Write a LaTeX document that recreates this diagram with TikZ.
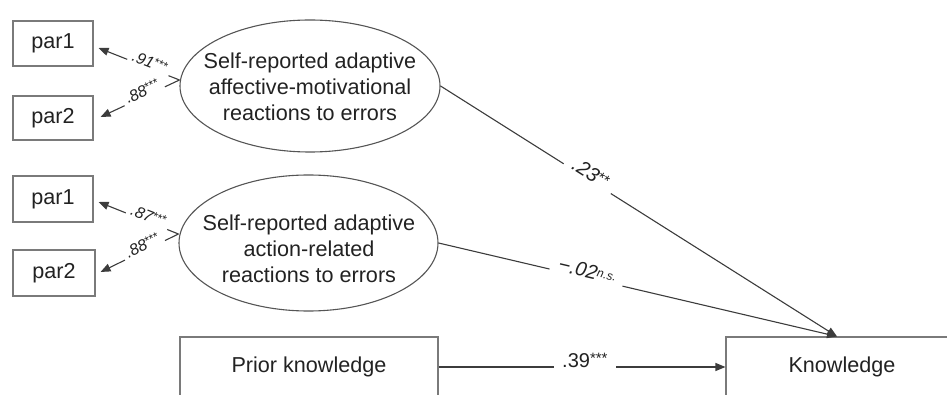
\documentclass[tikz,border=0pt]{standalone}
\usepackage{fontspec}
\setmainfont{Liberation Sans}
\usetikzlibrary{arrows.meta,shapes.geometric,calc}
\definecolor{txt}{HTML}{222222}
\definecolor{linegray}{HTML}{3C3C3C}
\definecolor{ellgray}{HTML}{555555}
\definecolor{boxgray}{HTML}{7A7A7A}
\newcommand{\lstars}[1]{\raisebox{3.5pt}{\fontsize{12}{12}\selectfont\upshape #1}}
\newcommand{\pstars}[1]{\raisebox{3.5pt}{\fontsize{15}{15}\selectfont\upshape #1}}
\begin{document}
\begin{tikzpicture}[x=1pt,y=-1pt,
  box/.style={draw=boxgray,line width=1.1pt,inner sep=0pt,text=txt,font=\fontsize{21.6}{26}\selectfont},
  latent/.style={draw=ellgray,line width=1.1pt,ellipse,inner sep=0pt},
  lattext/.style={align=center,text=txt,inner sep=0pt,font=\fontsize{21.6}{26}\selectfont},
  arr/.style={draw=linegray,line width=1.1pt,-{Triangle[length=10pt,width=8pt]}},
  lbl/.style={fill=white,sloped,anchor=base,inner xsep=4pt,inner ysep=3pt,text=txt,font=\fontsize{16}{16}\selectfont},
  plbl/.style={fill=white,sloped,anchor=base,inner xsep=8pt,inner ysep=3pt,text=txt,font=\fontsize{20}{20}\selectfont},
]
\useasboundingbox (0,0) rectangle (947,395);
\clip (0,0) rectangle (947,395);

% indicator boxes
\node[box,minimum width=80pt,minimum height=45pt] (p11) at (53,43.5) {par1};
\node[box,minimum width=80pt,minimum height=44pt] (p12) at (53,118) {par2};
\node[box,minimum width=80pt,minimum height=46pt] (p21) at (53,199) {par1};
\node[box,minimum width=82pt,minimum height=46pt] (p22) at (54,273) {par2};

% latent variables
\node[latent,minimum width=260pt,minimum height=132pt] (L1) at (310,86) {};
\node[lattext] (L1t) at (310,87) {Self-reported adaptive\\affective-motivational\\reactions to errors};
\node[latent,minimum width=259pt,minimum height=136pt] (L2) at (308.5,243) {};
\node[lattext] (L2t) at (309,249) {Self-reported adaptive\\action-related\\reactions to errors};

% observed predictor / outcome (cut off at picture border)
\node[box,minimum width=258pt,minimum height=60pt] (prior) at (309,367) {Prior knowledge};
\node[box,minimum width=232pt,minimum height=60pt] (know) at (842,367) {Knowledge};

\coordinate (c1) at ([yshift=6pt]L1.west);
\coordinate (c2) at ([yshift=9pt]L2.west);
\coordinate (kt) at ([xshift=-5pt]know.north);

% loadings
\draw[arr] (c1) -- node[lbl,pos=.39]{\itshape .91\lstars{***}} ([xshift=5pt,yshift=-4.5pt]p11.east);
\draw[arr] (c1) -- node[lbl,pos=.44]{\itshape .88\lstars{***}} ([xshift=7pt,yshift=1pt]p12.east);
\draw[arr] (c2) -- node[lbl,pos=.40]{\itshape .87\lstars{***}} ([xshift=5pt,yshift=-3pt]p21.east);
\draw[arr] (c2) -- node[lbl,pos=.43]{\itshape .88\lstars{***}} ([xshift=5pt,yshift=1pt]p22.east);

% structural paths
\draw[arr] (L1.east) -- node[plbl,pos=.37]{\itshape .23\pstars{**}} (kt);
\draw[arr] (L2.east) -- node[plbl,pos=.37]{\itshape −.02{\fontsize{12}{12}\selectfont\raisebox{3pt}{n.s.}}} (kt);
\draw[arr] (prior.east) -- node[plbl,pos=.51]{.39\pstars{***}} (know.west);
\end{tikzpicture}
\end{document}
